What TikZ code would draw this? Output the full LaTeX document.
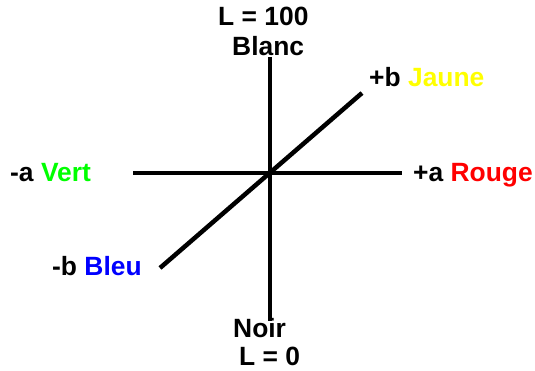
\documentclass[tikz,border=0pt]{standalone}
\usepackage{fontspec}
\setmainfont{Liberation Sans}
\begin{document}
\begin{tikzpicture}[x=1pt,y=-1pt,
  lbl/.style={inner sep=0pt,anchor=base west,font=\fontsize{26.4}{30}\selectfont\bfseries},
  axis/.style={line width=4.5pt}]
\useasboundingbox (0,0) rectangle (535,371);
\definecolor{cgreen}{RGB}{0,255,0}
\definecolor{cred}{RGB}{255,0,0}
\definecolor{cblue}{RGB}{0,0,255}
\definecolor{cyellow}{RGB}{255,255,0}
\coordinate (top) at (270,57);
\coordinate (bot) at (270,321);
\coordinate (left) at (133,173);
\coordinate (right) at (402,173);
\coordinate (bl) at (160,268);
\coordinate (tr) at (362,93);
\draw[axis] (top) -- (bot);
\draw[axis] (left) -- (right);
\draw[axis] (bl) -- (tr);
\node[lbl] (l100) at (218,26) {L = 100};
\node[lbl] (blanc) at (232,56) {Blanc};
\node[lbl] (vert) at (10,182) {-a \textcolor{cgreen}{Vert}};
\node[lbl] (rouge) at (413,182) {+a \textcolor{cred}{Rouge}};
\node[lbl] (bleu) at (52,275) {-b \textcolor{cblue}{Bleu}};
\node[lbl] (jaune) at (369,87) {+b \textcolor{cyellow}{Jaune}};
\node[lbl] (noir) at (233,337) {Noir};
\node[lbl] (l0) at (239,365) {L = 0};
\end{tikzpicture}
\end{document}
